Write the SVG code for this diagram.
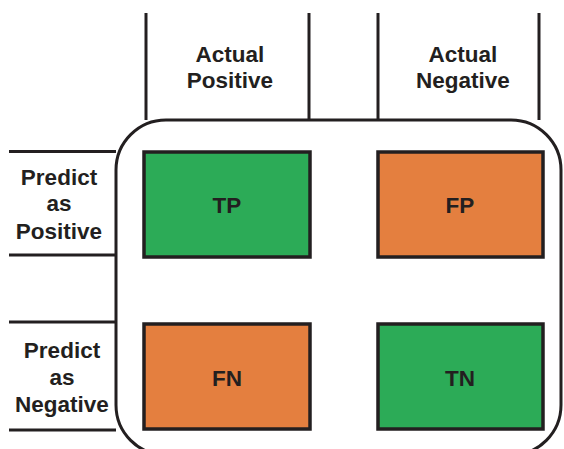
<svg xmlns="http://www.w3.org/2000/svg" width="564" height="449" viewBox="0 0 564 449">
<style>
.ln{stroke:#231F20;stroke-width:3;fill:none}
.box{stroke:#231F20;stroke-width:3.5}
.pos{fill:#2CAB57}
.neg{fill:#E47F3F}
text{font-family:"Liberation Sans",Arial,sans-serif;font-weight:bold;font-size:22.5px;fill:#231F20;text-anchor:middle}
</style>
<rect width="564" height="449" fill="#fff"/>
<g id="connectors">
<rect class="ln" x="116" y="120" width="445" height="335" rx="50" ry="50"/>
<line class="ln" x1="146" y1="13" x2="146" y2="120"/>
<line class="ln" x1="309" y1="13" x2="309" y2="120"/>
<line class="ln" x1="378" y1="13" x2="378" y2="120"/>
<line class="ln" x1="539" y1="13" x2="539" y2="120"/>
<line class="ln" x1="9" y1="151.5" x2="116" y2="151.5"/>
<line class="ln" x1="9" y1="255" x2="116" y2="255"/>
<line class="ln" x1="9" y1="322" x2="116" y2="322"/>
<line class="ln" x1="9" y1="430" x2="116" y2="430"/>
</g>
<g id="actual-positive"><text x="230" y="62">Actual</text><text x="230" y="88">Positive</text></g>
<g id="actual-negative"><text x="463" y="62">Actual</text><text x="463" y="88">Negative</text></g>
<g id="predict-positive"><text x="59" y="185">Predict</text><text x="59" y="211">as</text><text x="59" y="239">Positive</text></g>
<g id="predict-negative"><text x="62" y="358">Predict</text><text x="62" y="385">as</text><text x="62" y="412">Negative</text></g>
<g id="tp"><rect class="box pos" x="144" y="152" width="166" height="105"/><text x="227" y="213">TP</text></g>
<g id="fp"><rect class="box neg" x="378" y="152" width="165" height="105"/><text x="460" y="213">FP</text></g>
<g id="fn"><rect class="box neg" x="144" y="324" width="166" height="105"/><text x="227" y="386">FN</text></g>
<g id="tn"><rect class="box pos" x="378" y="324" width="165" height="105"/><text x="460" y="386">TN</text></g>
</svg>
